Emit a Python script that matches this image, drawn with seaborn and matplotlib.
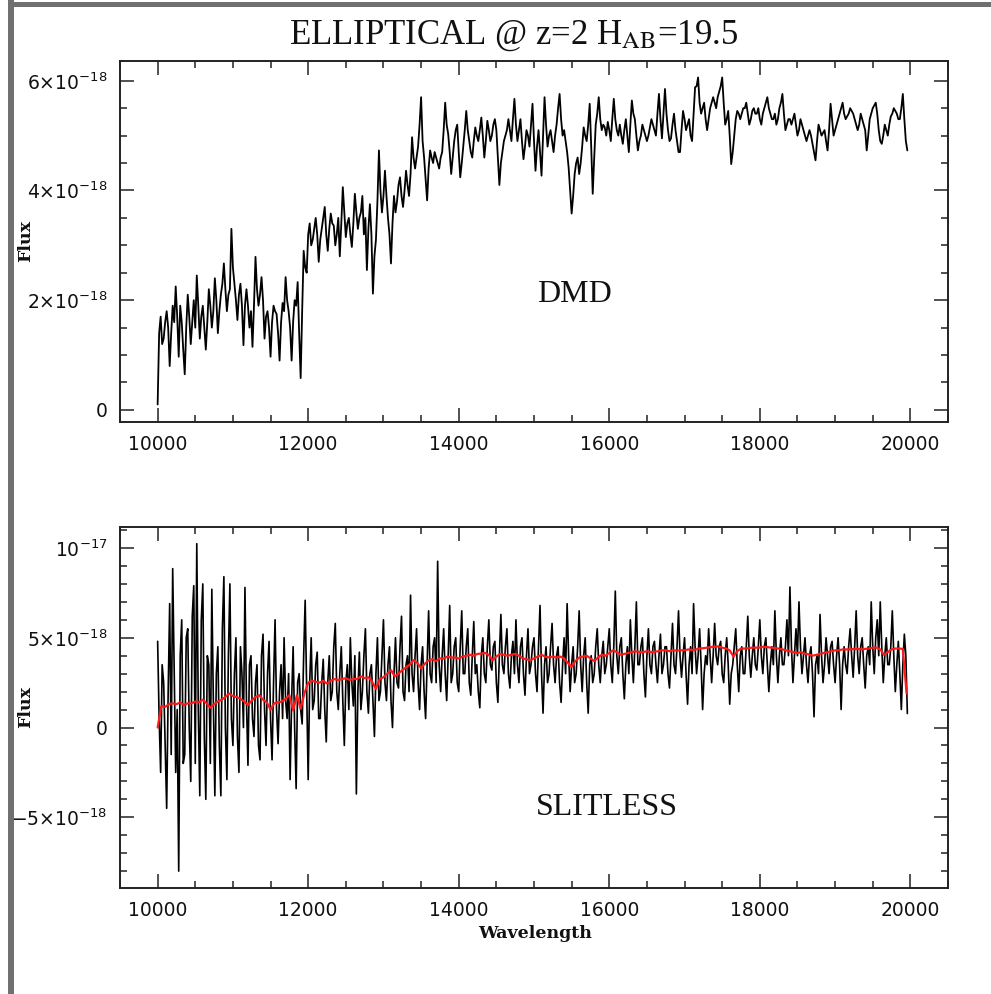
import numpy as np
import pandas as pd
import matplotlib
matplotlib.use("Agg")
import matplotlib.pyplot as plt
from matplotlib.patches import Rectangle
from matplotlib.ticker import FixedLocator, FixedFormatter, MultipleLocator
import seaborn as sns

# ---------------- data (flux in units of 1e-18) ----------------
dmd_step = 20
dmd_flux = [
    0.1, 1.4, 1.7, 1.2, 1.3, 1.6, 1.8, 1.5, 0.8, 1.4,
    1.9, 1.6, 2.25, 1.7, 0.97, 1.9, 1.6, 1.1, 0.65, 1.5,
    2.1, 1.7, 1.2, 1.6, 2.0, 1.5, 2.45, 1.9, 1.3, 1.7,
    1.9, 1.5, 1.1, 1.6, 2.2, 1.9, 1.5, 1.8, 2.4, 2.0,
    1.4, 1.8, 2.1, 2.3, 2.67, 2.2, 1.8, 2.1, 2.2, 3.3,
    2.6, 2.3, 2.0, 1.64, 2.1, 2.3, 1.9, 1.18, 1.9, 2.2,
    1.9, 1.5, 1.8, 1.15, 1.9, 2.79, 2.2, 1.9, 2.1, 2.42,
    2.0, 1.3, 1.7, 1.8, 1.5, 0.97, 1.6, 1.9, 1.8, 1.75,
    1.4, 0.9, 1.6, 1.95, 1.8, 2.42, 2.0, 1.8, 1.5, 0.9,
    1.6, 2.0, 1.9, 2.33, 1.4, 0.58, 1.8, 2.9, 2.6, 2.5,
    3.2, 3.4, 3.0, 3.1, 3.3, 3.5, 3.2, 2.7, 3.1, 3.3,
    3.5, 3.7, 3.2, 2.9, 3.3, 3.58, 3.4, 3.36, 3.0, 3.2,
    3.5, 2.8, 3.4, 4.06, 3.6, 3.15, 3.4, 3.5, 3.2, 2.97,
    3.4, 3.94, 3.6, 3.3, 3.5, 3.6, 3.9, 3.2, 3.5, 2.55,
    3.3, 3.75, 3.2, 2.12, 2.8, 3.1, 3.8, 4.73, 4.0, 3.6,
    3.9, 4.36, 3.9, 3.5, 3.2, 2.67, 3.4, 3.9, 3.6, 3.8,
    4.1, 4.24, 3.9, 3.7, 4.0, 4.36, 4.1, 3.9, 4.3, 4.97,
    4.6, 4.4, 4.6, 4.8, 5.2, 5.7, 4.9, 4.6, 4.2, 3.82,
    4.4, 4.73, 4.6, 4.5, 4.7, 4.6, 4.5, 4.4, 4.6, 4.7,
    5.1, 5.6, 5.2, 5.03, 4.7, 4.3, 4.6, 4.9, 5.1, 5.2,
    4.7, 4.24, 4.5, 4.8, 5.1, 5.45, 5.1, 4.9, 4.7, 4.6,
    4.9, 5.15, 5.0, 4.9, 5.1, 5.33, 5.0, 4.6, 4.9, 5.27,
    5.1, 4.9, 5.0, 5.2, 5.3, 5.1, 4.6, 4.1, 4.5, 4.7,
    4.9, 5.0, 5.1, 5.3, 5.1, 4.9, 5.3, 5.67, 5.2, 4.9,
    5.1, 5.3, 4.9, 4.57, 4.8, 5.1, 5.0, 4.8, 5.2, 5.58,
    4.9, 4.36, 4.8, 5.1, 4.7, 4.27, 5.0, 5.7, 5.2, 4.8,
    5.0, 5.1, 4.9, 4.7, 5.0, 5.2, 5.5, 5.76, 5.3, 5.0,
    5.1, 4.9, 4.7, 4.42, 4.0, 3.58, 3.9, 4.3, 4.5, 4.6,
    4.3, 4.5, 4.8, 5.15, 5.0, 4.9, 5.2, 5.58, 4.8, 3.94,
    4.6, 5.2, 5.4, 5.7, 5.3, 5.1, 5.2, 5.15, 5.0, 5.25,
    5.1, 4.9, 5.3, 5.67, 5.3, 5.1, 5.0, 5.2, 5.0, 4.85,
    5.1, 5.3, 5.0, 4.7, 5.2, 5.64, 5.4, 5.3, 5.0, 4.73,
    4.9, 5.0, 5.2, 5.1, 5.0, 4.9, 5.0, 5.15, 5.3, 5.2,
    5.1, 5.0, 5.4, 5.76, 5.3, 4.95, 5.4, 5.85, 5.4, 5.1,
    4.9, 4.95, 5.2, 5.4, 5.1, 4.9, 4.7, 4.7, 5.1, 5.45,
    5.3, 5.1, 5.2, 5.3, 5.0, 4.9, 5.4, 5.88, 5.9, 6.06,
    5.6, 5.4, 5.5, 5.6, 5.3, 5.1, 5.3, 5.5, 5.6, 5.7,
    5.6, 5.5, 5.7, 5.8, 5.9, 6.06, 5.6, 5.2, 5.3, 5.45,
    5.0, 4.48, 4.7, 5.0, 5.3, 5.45, 5.4, 5.3, 5.4, 5.5,
    5.5, 5.6, 5.4, 5.2, 5.3, 5.45, 5.5, 5.4, 5.4, 5.5,
    5.3, 5.2, 5.4, 5.5, 5.6, 5.7, 5.5, 5.4, 5.3, 5.3,
    5.4, 5.2, 5.3, 5.5, 5.6, 5.76, 5.4, 5.1, 5.2, 5.3,
    5.3, 5.2, 5.3, 5.4, 5.2, 5.0, 5.1, 5.3, 5.2, 5.1,
    5.0, 4.9, 5.0, 5.1, 5.0, 4.85, 4.7, 4.55, 4.9, 5.2,
    5.1, 5.0, 5.05, 5.1, 4.9, 4.73, 5.1, 5.58, 5.3, 5.0,
    5.1, 5.2, 5.3, 5.4, 5.5, 5.6, 5.4, 5.3, 5.35, 5.4,
    5.5, 5.45, 5.4, 5.3, 5.2, 5.1, 5.2, 5.4, 5.3, 5.2,
    5.1, 4.73, 5.0, 5.3, 5.4, 5.5, 5.55, 5.6, 5.4, 5.1,
    4.9, 4.85, 5.0, 5.2, 5.1, 5.0, 5.2, 5.35, 5.4, 5.5,
    5.45, 5.4, 5.3, 5.3, 5.5, 5.76, 5.3, 4.9, 4.73,
]

slit_step = 20
slit_flux = [
    4.8, 0.5, -2.5, 3.5, 2.5, -1.0, -4.5, 2.0, 6.9, -1.5,
    8.85, 3.0, -2.5, 1.0, -8.0, 4.0, 6.0, -2.0, -1.5, 5.0,
    5.5, 0.0, -3.0, 6.2, 7.9, -2.0, 10.24, 1.0, -3.8, 6.0,
    8.0, -0.5, -4.0, 4.0, 3.5, -2.0, 7.7, 1.5, -3.8, 3.0,
    4.5, -1.0, -3.8, 5.5, 8.4, 0.0, -2.9, 4.0, 8.0, 0.5,
    -1.0, 3.0, 5.0, -0.5, -2.5, 4.5, 3.0, 0.0, 7.8, 1.5,
    -2.1, 3.5, 4.0, 0.5, -0.5, 2.5, 3.5, -1.0, -1.8, 4.0,
    5.2, 1.0, -1.0, 3.0, 4.8, 0.5, -1.8, 2.5, 6.0, 1.0,
    -0.9, 2.0, 3.5, 0.5, 5.0, 1.5, 0.5, 3.0, -2.9, 1.5,
    4.5, 0.0, -3.4, 2.5, 3.0, 1.0, 0.2, 4.0, 7.09, 2.0,
    -2.9, 2.5, 5.0, 1.0, 1.5, 3.5, 4.2, 0.5, 0.5, 2.5,
    3.8, 1.0, -0.8, 2.5, 4.0, 1.5, 2.0, 4.5, 5.8, 2.0,
    1.0, 3.0, 4.5, 1.5, -1.0, 2.5, 3.5, 1.0, 5.0, 2.5,
    1.2, 4.0, -3.7, 2.0, 4.2, 1.0, 2.0, 4.0, 5.5, 2.0,
    0.8, 3.0, 3.5, 1.5, -0.5, 3.0, 5.0, 1.5, 2.0, 4.0,
    6.0, 2.5, 1.5, 3.5, 4.5, 1.5, 0.0, 3.0, 5.0, 2.5,
    2.2, 4.5, 6.2, 2.0, 1.5, 3.5, 4.0, 2.0, 7.37, 3.0,
    2.0, 4.0, 5.5, 2.5, 1.0, 3.5, 4.5, 2.0, 0.5, 3.5,
    6.5, 3.0, 2.5, 4.5, 5.0, 2.5, 9.26, 3.5, 2.0, 4.0,
    5.5, 3.0, 1.5, 4.0, 6.8, 2.5, 3.0, 4.5, 5.0, 2.5,
    2.0, 4.5, 6.5, 3.0, 3.0, 4.5, 5.5, 2.5, 1.8, 4.0,
    5.9, 3.0, 3.5, 2.0, 1.1, 4.0, 5.0, 3.0, 2.5, 4.5,
    6.0, 3.5, 3.2, 4.5, 4.8, 2.5, 1.4, 4.0, 6.3, 3.5,
    3.0, 4.5, 5.5, 3.0, 2.2, 4.0, 4.8, 3.0, 6.0, 3.5,
    2.5, 4.5, 5.0, 3.0, 1.8, 4.0, 5.5, 3.0, 3.5, 4.5,
    5.0, 3.0, 2.0, 4.5, 6.8, 3.0, 0.8, 3.5, 4.5, 2.5,
    3.0, 4.5, 5.8, 3.5, 2.5, 4.0, 4.5, 2.5, 1.4, 3.5,
    5.0, 3.0, 6.9, 4.0, 2.0, 3.5, 4.5, 2.5, 3.0, 4.5,
    6.5, 3.5, 2.0, 4.0, 5.0, 2.5, 0.8, 3.5, 4.0, 2.5,
    3.0, 4.5, 5.5, 3.5, 2.5, 4.0, 4.8, 3.0, 3.5, 4.5,
    5.5, 3.5, 2.5, 4.5, 7.6, 4.0, 3.0, 4.5, 5.0, 3.0,
    1.6, 3.5, 4.5, 3.0, 6.0, 4.0, 2.5, 4.5, 7.0, 3.5,
    3.5, 4.5, 5.0, 3.0, 1.7, 4.0, 5.5, 3.5, 3.0, 4.5,
    4.8, 3.5, 2.5, 4.0, 5.2, 3.0, 3.5, 4.5, 4.5, 3.0,
    2.2, 4.0, 5.8, 3.5, 3.0, 4.5, 6.5, 4.0, 2.8, 4.0,
    5.0, 3.0, 1.3, 3.5, 4.5, 3.0, 6.9, 4.5, 3.0, 4.0,
    5.5, 3.5, 1.0, 3.0, 4.0, 3.5, 5.5, 4.0, 2.5, 4.0,
    5.8, 4.0, 3.5, 4.5, 4.8, 3.0, 2.5, 4.0, 5.0, 3.5,
    1.3, 3.0, 3.5, 4.5, 5.5, 3.5, 2.0, 4.0, 4.5, 3.0,
    3.0, 4.5, 6.2, 4.0, 2.8, 4.0, 5.0, 3.5, 3.2, 4.5,
    6.0, 4.0, 3.0, 4.5, 5.0, 3.5, 2.0, 3.5, 4.5, 3.5,
    6.5, 4.0, 2.5, 4.0, 5.0, 3.5, 3.5, 4.5, 6.0, 4.0,
    7.83, 4.5, 2.5, 4.0, 5.5, 4.0, 7.0, 4.5, 3.0, 4.0,
    5.0, 3.5, 2.5, 4.0, 4.5, 3.0, 0.6, 3.5, 4.0, 3.0,
    6.3, 4.0, 2.5, 3.5, 5.0, 4.0, 3.0, 4.5, 4.8, 3.5,
    2.5, 4.0, 5.0, 3.5, 1.0, 3.5, 4.5, 3.5, 3.0, 4.5,
    5.5, 4.0, 2.8, 4.5, 6.5, 4.0, 3.0, 4.5, 5.0, 3.5,
    2.2, 4.0, 4.5, 3.5, 7.0, 4.5, 3.0, 5.0, 6.0, 4.0,
    7.0, 4.5, 2.5, 4.0, 5.0, 3.5, 3.5, 4.5, 6.5, 4.0,
    2.0, 3.5, 4.8, 3.0, 1.0, 3.5, 5.2, 4.0, 0.78,
]

smooth_step = 50
smooth_flux = [
    0.0, 1.2, 1.15, 1.3, 1.35, 1.3, 1.4, 1.25, 1.35, 1.35,
    1.45, 1.4, 1.55, 1.35, 1.1, 1.3, 1.45, 1.55, 1.7, 1.9,
    1.75, 1.7, 1.6, 1.45, 1.25, 1.5, 1.7, 1.8, 1.55, 1.4,
    1.0, 1.35, 1.4, 1.45, 1.6, 1.8, 0.95, 1.8, 1.05, 1.9,
    2.5, 2.6, 2.55, 2.5, 2.6, 2.45, 2.6, 2.7, 2.65, 2.7,
    2.75, 2.65, 2.7, 2.7, 2.85, 2.75, 2.8, 2.55, 2.15, 2.7,
    2.8, 3.0, 3.2, 2.85, 3.0, 3.2, 3.35, 3.5, 3.75, 3.6,
    3.3, 3.55, 3.75, 3.8, 3.7, 3.85, 3.85, 3.95, 3.9, 3.9,
    3.85, 3.95, 4.0, 4.05, 4.0, 4.1, 4.12, 4.15, 4.05, 3.75,
    3.95, 4.1, 4.05, 4.0, 4.05, 4.1, 4.0, 3.85, 3.8, 3.75,
    3.85, 3.95, 4.05, 3.95, 3.9, 3.95, 3.9, 3.95, 3.85, 3.6,
    3.38, 3.7, 3.9, 3.95, 4.0, 3.85, 3.7, 3.9, 4.05, 4.0,
    4.15, 4.3, 4.2, 4.05, 4.1, 4.15, 4.2, 4.25, 4.2, 4.2,
    4.25, 4.2, 4.22, 4.25, 4.3, 4.3, 4.25, 4.3, 4.28, 4.3,
    4.3, 4.35, 4.32, 4.35, 4.4, 4.42, 4.45, 4.48, 4.5, 4.52,
    4.45, 4.4, 4.3, 3.95, 4.25, 4.4, 4.4, 4.42, 4.45, 4.45,
    4.45, 4.5, 4.48, 4.45, 4.42, 4.4, 4.35, 4.3, 4.25, 4.2,
    4.15, 4.2, 4.1, 4.08, 4.0, 4.05, 4.1, 4.15, 4.2, 4.25,
    4.3, 4.3, 4.35, 4.35, 4.35, 4.38, 4.38, 4.35, 4.38, 4.4,
    4.45, 4.45, 4.35, 4.05, 4.2, 4.35, 4.4, 4.4, 4.38, 1.9,
]

start_wavelength = 10000
x_ticks = [10000, 12000, 14000, 16000, 18000, 20000]
x_labels = ["10000", "12000", "14000", "16000", "18000", "20000"]
top_y_ticks = [0, 2, 4, 6]
top_y_labels = ["0", r"$2{\times}10^{-18}$", r"$4{\times}10^{-18}$", r"$6{\times}10^{-18}$"]
bot_y_ticks = [-5, 0, 5, 10]
bot_y_labels = [r"$-5{\times}10^{-18}$", "0", r"$5{\times}10^{-18}$", r"$10^{-17}$"]

title_text = r"ELLIPTICAL @ z=2 H$_{\rm AB}$=19.5"

# ---------------- build tables ----------------
dmd = pd.DataFrame({"wavelength": start_wavelength + dmd_step * np.arange(len(dmd_flux)),
                    "flux": dmd_flux})
slit = pd.DataFrame({"wavelength": start_wavelength + slit_step * np.arange(len(slit_flux)),
                     "flux": slit_flux})
smooth = pd.DataFrame({"wavelength": start_wavelength + smooth_step * np.arange(len(smooth_flux)),
                       "flux": smooth_flux})

sns.set_theme(style="white")
plt.rcParams["font.family"] = ["DejaVu Sans"]
plt.rcParams["mathtext.fontset"] = "dejavusans"

W, H = 991, 994
fig = plt.figure(figsize=(W / 100, H / 100), dpi=100)
fig.patch.set_facecolor("white")

ax1 = fig.add_axes([120 / W, 1 - 422 / H, 828 / W, 361 / H])
ax2 = fig.add_axes([120 / W, 1 - 888 / H, 828 / W, 361 / H])

sns.lineplot(data=dmd, x="wavelength", y="flux", ax=ax1, color="black",
             linewidth=1.3, estimator=None, sort=False)
sns.lineplot(data=slit, x="wavelength", y="flux", ax=ax2, color="black",
             linewidth=1.2, estimator=None, sort=False)
sns.lineplot(data=smooth, x="wavelength", y="flux", ax=ax2, color="#ff1a1a",
             linewidth=1.6, estimator=None, sort=False)

ax1.set_xlim(9500, 20500)
ax2.set_xlim(9500, 20500)
ax1.set_ylim(-0.22, 6.36)
ax2.set_ylim(-8.94, 11.17)

for ax, yt, yl, ymin in [(ax1, top_y_ticks, top_y_labels, 0.5),
                         (ax2, bot_y_ticks, bot_y_labels, 1.0)]:
    ax.set_xlabel("")
    ax.set_ylabel("")
    ax.xaxis.set_major_locator(FixedLocator(x_ticks))
    ax.xaxis.set_major_formatter(FixedFormatter(x_labels))
    ax.xaxis.set_minor_locator(MultipleLocator(500))
    ax.yaxis.set_major_locator(FixedLocator(yt))
    ax.yaxis.set_major_formatter(FixedFormatter(yl))
    ax.yaxis.set_minor_locator(MultipleLocator(ymin))
    ax.tick_params(which="both", direction="in", top=True, right=True,
                   bottom=True, left=True, color="#222222")
    ax.tick_params(which="major", length=10, width=1.1, labelsize=13.5,
                   labelcolor="#111111")
    ax.tick_params(which="minor", length=5, width=1.1)
    ax.tick_params(axis="x", which="major", pad=9)
    ax.tick_params(axis="y", which="major", pad=9)
    for s in ax.spines.values():
        s.set_linewidth(1.4)
        s.set_color("#222222")
        s.set_visible(True)

ax1.text(15040, 2.1, "DMD", family="Liberation Serif", fontsize=23,
         ha="left", va="center", color="#111111")
ax2.text(15030, -4.45, "SLITLESS", family="Liberation Serif", fontsize=23,
         ha="left", va="center", color="#111111")

fig.text(514 / W, 1 - 36 / H, title_text, family="Liberation Serif",
         math_fontfamily="stix", fontsize=25, ha="center", va="center",
         color="#111111")

for yc in [241.5, 707.5]:
    fig.text(26 / W, 1 - yc / H, "Flux", family="DejaVu Serif", weight="bold",
             fontsize=12.5, rotation=90, ha="center", va="center",
             color="#111111")
fig.text(535 / W, 1 - 934 / H, "Wavelength", family="DejaVu Serif",
         weight="bold", fontsize=12.5, ha="center", va="center",
         color="#111111")

# page frame bars
fig.add_artist(Rectangle((8 / W, 0), 6 / W, 1, transform=fig.transFigure,
                         facecolor="#707070", edgecolor="none"))
fig.add_artist(Rectangle((8 / W, 1 - 7 / H), 1, 5 / H, transform=fig.transFigure,
                         facecolor="#707070", edgecolor="none"))

fig.savefig("out.png", dpi=100)
